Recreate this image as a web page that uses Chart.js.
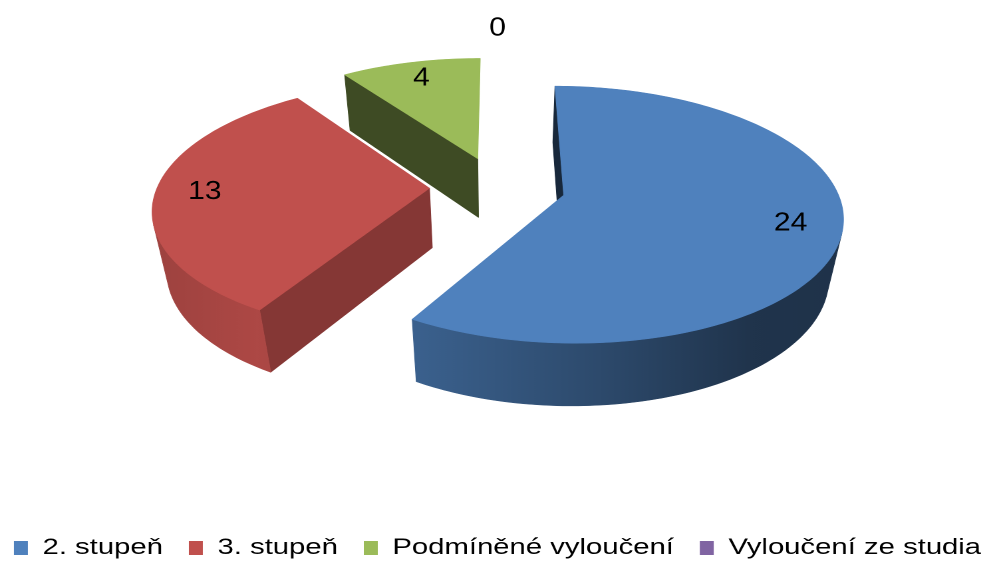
<!DOCTYPE html>
<html>
<head>
<meta charset="utf-8">
<script src="https://cdn.jsdelivr.net/npm/chart.js@4/dist/chart.umd.min.js"></script>
<style>
  html, body { margin: 0; padding: 0; background: #ffffff; }
  canvas { display: block; }
</style>
</head>
<body>
<!-- drawn at 748 logical px wide, shown stretched to the full 995 px width -->
<canvas id="chart" width="748" height="565" style="width:995px;height:565px"></canvas>
<script>
const categories = ['2. stupeň', '3. stupeň', 'Podmíněné vyloučení', 'Vyloučení ze studia'];
const counts = [24, 13, 4, 0];
const sliceColors = ['#4F81BD', '#C0504D', '#9BBB59', '#8064A2'];

// 3D look of the pie
const PIE_RADIUS = 204.5;     // px
const PIE_CENTER_Y = 187;     // px from the top of the canvas
const EXPLODE = 0.25;         // slice pull-out, fraction of the radius
const TILT_DEG = 37;          // view angle above the disc
const CAMERA_DIST = 5.33;     // camera distance, in radii
const THICKNESS = 0.38;       // disc height, in radii
const LABEL_POS = 0.82;       // label distance along the slice mid-line, in radii
const ZERO_LABEL_POS = 1.35;
// rim brightness across the canvas width: [fraction of width, factor]
const RIM_LIGHT = [[0, 0.78], [0.153, 0.82], [0.259, 0.90], [0.414, 0.75], [0.603, 0.57], [0.754, 0.40], [1, 0.37]];

function hexToRgb(h) {
  const n = parseInt(h.slice(1), 16);
  return [(n >> 16) & 255, (n >> 8) & 255, n & 255];
}
function shade(rgb, f) {
  return 'rgb(' + rgb.map(v => Math.max(0, Math.min(255, Math.round(v * f)))).join(',') + ')';
}

const pie3d = {
  id: 'pie3d',
  beforeDatasetsDraw(chart) {
    const ctx = chart.ctx;
    const meta = chart.getDatasetMeta(0);
    const values = chart.data.datasets[0].data;
    const th = TILT_DEG * Math.PI / 180, sinT = Math.sin(th), cosT = Math.cos(th);

    const slices = meta.data.map((arc, i) => {
      const p = arc.getProps(['x', 'y', 'startAngle', 'endAngle', 'outerRadius'], true);
      const mid = (p.startAngle + p.endAngle) / 2;
      const off = arc.options.offset || 0;
      return {
        i, cx: p.x, cy: PIE_CENTER_Y, R: p.outerRadius,
        a0: p.startAngle, a1: p.endAngle, mid,
        ox: off * Math.cos(mid), oz: -off * Math.sin(mid),
        color: hexToRgb(arc.options.backgroundColor)
      };
    });

    // world: X right, Z away from the viewer, y up (px)
    function proj(s, X, Z, y) {
      const L = CAMERA_DIST * s.R;
      const k = L / (L + Z * cosT - y * sinT);
      return [s.cx + X * k, s.cy - (y * cosT + Z * sinT) * k];
    }
    const rimX = (s, t) => s.ox + s.R * Math.cos(t);
    const rimZ = (s, t) => s.oz - s.R * Math.sin(t);
    const camZ = s => -CAMERA_DIST * s.R * cosT;

    function poly(pts, fill) {
      ctx.beginPath();
      pts.forEach((p, k) => (k ? ctx.lineTo(p[0], p[1]) : ctx.moveTo(p[0], p[1])));
      ctx.closePath();
      ctx.fillStyle = fill;
      ctx.strokeStyle = fill;
      ctx.lineWidth = 0.6;
      ctx.lineJoin = 'round';
      ctx.fill();
      ctx.stroke();
    }

    function arcSteps(s) {
      const n = Math.max(2, Math.ceil((s.a1 - s.a0) / (Math.PI / 180)));
      const ts = [];
      for (let k = 0; k <= n; k++) ts.push(s.a0 + (s.a1 - s.a0) * k / n);
      return ts;
    }

    function drawSides(s) {
      const h = -THICKNESS * s.R;
      // flat cut faces (skipped when seen almost edge-on)
      [[s.a0, 1], [s.a1, -1]].forEach(([t, sg]) => {
        const nx = sg * Math.sin(t), nz = sg * Math.cos(t);
        const mx = s.ox + 0.5 * s.R * Math.cos(t), mz = s.oz - 0.5 * s.R * Math.sin(t);
        if (nx * (0 - mx) + nz * (camZ(s) - mz) <= 0.12 * s.R) return;
        const b = 0.487 + 0.177 * nx - 0.10 * nz;
        poly([
          proj(s, s.ox, s.oz, 0), proj(s, rimX(s, t), rimZ(s, t), 0),
          proj(s, rimX(s, t), rimZ(s, t), h), proj(s, s.ox, s.oz, h)
        ], shade(s.color, b));
      });
      // curved rim, only where it faces the camera
      const ts = arcSteps(s);
      const vis = ts.map(t => {
        const nx = Math.cos(t), nz = -Math.sin(t);
        return nx * (0 - rimX(s, t)) + nz * (camZ(s) - rimZ(s, t)) > 0;
      });
      const grad = ctx.createLinearGradient(0, 0, chart.width, 0);
      RIM_LIGHT.forEach(([u, f]) => grad.addColorStop(u, shade(s.color, f)));
      let k = 0;
      while (k < ts.length) {
        if (!vis[k]) { k++; continue; }
        let e = k;
        while (e + 1 < ts.length && vis[e + 1]) e++;
        const from = Math.max(0, k - 1), to = Math.min(ts.length - 1, e + 1);
        const run = ts.slice(from, to + 1);
        const top = run.map(t => proj(s, rimX(s, t), rimZ(s, t), 0));
        const bot = run.map(t => proj(s, rimX(s, t), rimZ(s, t), h)).reverse();
        poly(top.concat(bot), grad);
        k = e + 1;
      }
    }

    function drawTop(s) {
      const pts = [proj(s, s.ox, s.oz, 0)];
      arcSteps(s).forEach(t => pts.push(proj(s, rimX(s, t), rimZ(s, t), 0)));
      poly(pts, shade(s.color, 1));
    }

    const solid = slices.filter(s => s.a1 - s.a0 > 1e-6);
    ctx.save();
    solid.slice().sort((a, b) => b.oz - a.oz).forEach(drawSides);
    solid.forEach(drawTop);

    // value labels
    ctx.font = '26px "Liberation Sans", Arial, sans-serif';
    ctx.fillStyle = '#000000';
    ctx.textAlign = 'center';
    ctx.textBaseline = 'middle';
    slices.forEach(s => {
      const v = values[s.i];
      const f = v > 0 ? LABEL_POS : ZERO_LABEL_POS;
      const [x, y] = proj(s, s.ox + f * s.R * Math.cos(s.mid), s.oz - f * s.R * Math.sin(s.mid), 0);
      ctx.save();
      ctx.translate(x, y);
      ctx.scale(0.87, 1);
      ctx.fillText(String(v), 0, 0);
      ctx.restore();
    });
    ctx.restore();
    return false;
  }
};

new Chart(document.getElementById('chart'), {
  type: 'pie',
  data: {
    labels: categories,
    datasets: [{
      data: counts,
      backgroundColor: sliceColors,
      borderWidth: 0,
      radius: PIE_RADIUS,
      offset: EXPLODE * PIE_RADIUS,
      clip: false
    }]
  },
  options: {
    responsive: false,
    devicePixelRatio: 2,
    animation: false,
    layout: { padding: { top: 0, bottom: -4, left: -20, right: -20 } },
    plugins: {
      tooltip: { enabled: false },
      legend: {
        position: 'bottom',
        labels: {
          color: '#000000',
          font: { family: '"Liberation Sans", Arial, sans-serif', size: 22 },
          boxWidth: 10.5,
          boxHeight: 14,
          padding: 19.5
        }
      }
    }
  },
  plugins: [pie3d]
});
</script>
</body>
</html>
